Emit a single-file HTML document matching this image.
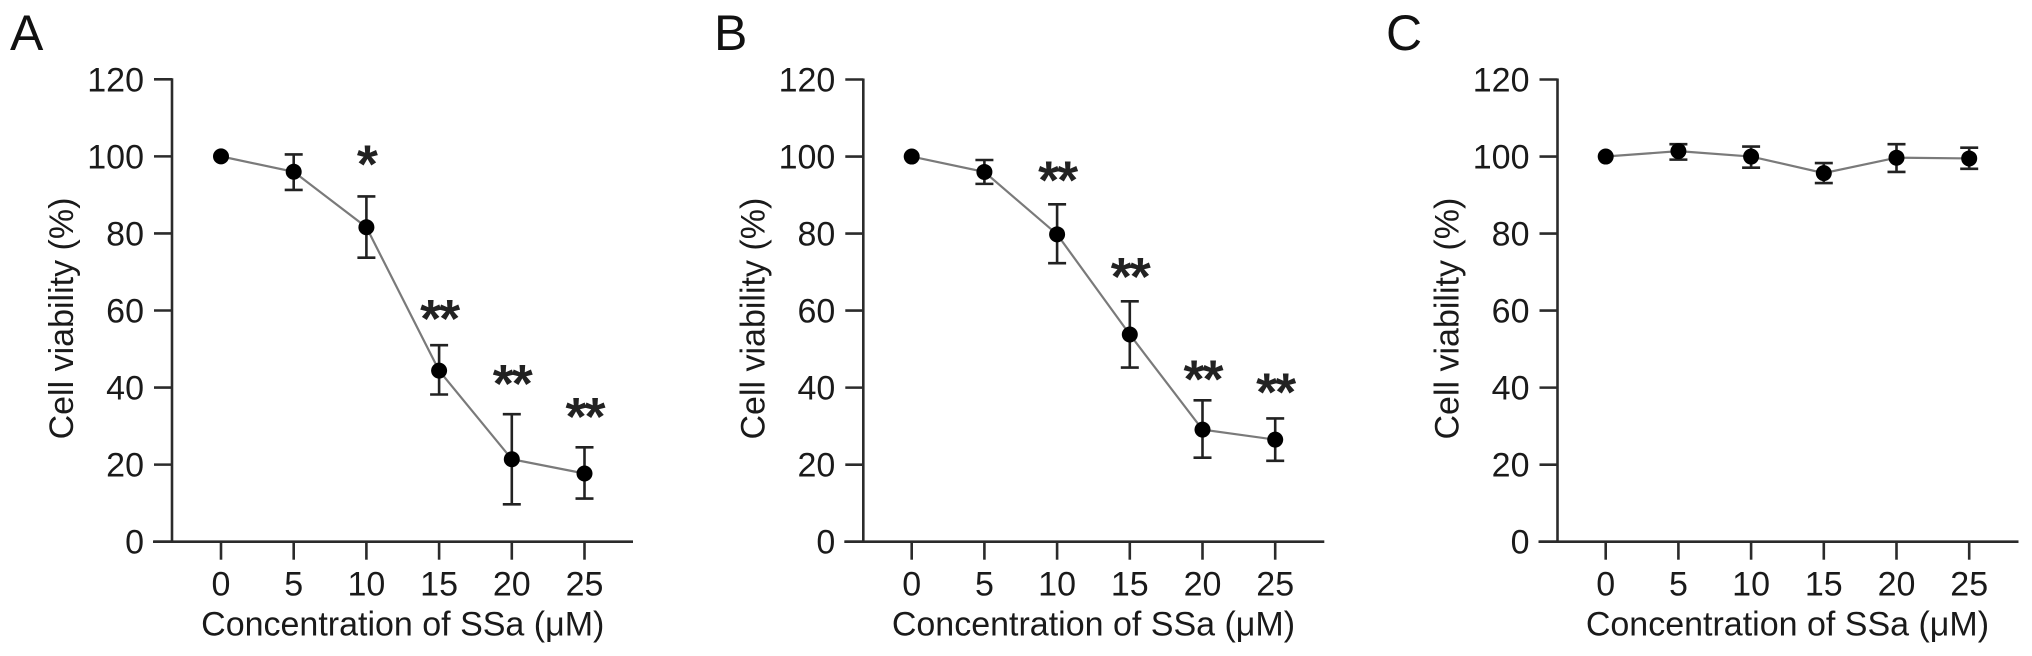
<!DOCTYPE html>
<html><head><meta charset="utf-8">
<style>
html,body{margin:0;padding:0;background:#fff;}
svg{display:block;font-family:"Liberation Sans",Arial,sans-serif;}
</style></head>
<body>
<svg id="fig" width="2032" height="656" viewBox="0 0 2032 656" xmlns="http://www.w3.org/2000/svg"></svg>
<script>
const concentrations = [0, 5, 10, 15, 20, 25];
const yTicks = [0, 20, 40, 60, 80, 100, 120];
const meanA = [100, 96, 81.6, 44.4, 21.4, 17.7];
const hiA = [null, 100.5, 89.6, 51, 33.1, 24.5];
const loA = [null, 91.3, 73.7, 38.2, 9.7, 11.2];
const starsA = ["", "", "*", "**", "**", "**"];
const starYA = [null, null, 101, 60.9, 44, 35.5];
const meanB = [100, 96, 79.8, 53.8, 29.1, 26.5];
const hiB = [null, 99.1, 87.6, 62.4, 36.7, 32];
const loB = [null, 92.9, 72.3, 45.2, 21.8, 21.0];
const starsB = ["", "", "**", "**", "**", "**"];
const starYB = [null, null, 96.9, 71.8, 45.2, 41.9];
const meanC = [100, 101.4, 100, 95.7, 99.7, 99.5];
const hiC = [null, 103.2, 102.6, 98.3, 103.2, 102.3];
const loC = [null, 99.2, 97.1, 93.1, 96, 96.8];
const starsC = ["", "", "", "", "", ""];
const starYC = [null, null, null, null, null, null];

const NS = "http://www.w3.org/2000/svg";
const svg = document.getElementById('fig');
function mk(tag, attrs, parent, text) {
  const e = document.createElementNS(NS, tag);
  for (const k in attrs) e.setAttribute(k, attrs[k]);
  if (text !== undefined) e.textContent = text;
  (parent || svg).appendChild(e);
  return e;
}

function panel(id, letter, letterX, axisX, x0, y0, y120, mean, hi, lo, stars, starY) {
  const g = mk('g', {});
  
  
  const step = 72.7;
  const xs = c => x0 + (c / 5) * step;
  const ys = v => y0 - (v / 120) * (y0 - y120);
  const ink = '#2b2b2b';

  const lt = mk('text', {x: letterX, y: 50, 'font-size': 50, fill: '#111'}, g, letter);
  
  

  const ya = mk('line', {x1: axisX, y1: ys(120) - 1, x2: axisX, y2: y0, stroke: ink, 'stroke-width': 2.6}, g);
  
  
  const xa = mk('line', {x1: axisX - 19, y1: y0, x2: axisX + 461, y2: y0, stroke: ink, 'stroke-width': 2.6}, g);
  
  

  yTicks.forEach(t => {
    const y = ys(t);
    const tk = mk('line', {x1: axisX - 18, y1: y, x2: axisX, y2: y, stroke: ink, 'stroke-width': 2.6}, g);
    
    
    const tl = mk('text', {x: axisX - 28, y: y + 12, 'font-size': 34, 'text-anchor': 'end', fill: '#1a1a1a'}, g, String(t));
    
    
  });
  concentrations.forEach(c => {
    const x = xs(c);
    const tk = mk('line', {x1: x, y1: y0, x2: x, y2: y0 + 18, stroke: ink, 'stroke-width': 2.6}, g);
    
    
    const tl = mk('text', {x: x, y: y0 + 54, 'font-size': 34, 'text-anchor': 'middle', fill: '#1a1a1a'}, g, String(c));
    
    
  });

  const xt = mk('text', {x: xs(12.5), y: y0 + 94, 'font-size': 34, 'text-anchor': 'middle', fill: '#1a1a1a'}, g, 'Concentration of SSa (\u03BCM)');
  
  
  const cy = (y0 + ys(120)) / 2 + 8;
  const yt = mk('text', {x: axisX - 110, y: cy, 'font-size': 34, 'text-anchor': 'middle', fill: '#1a1a1a',
    transform: 'rotate(-90 ' + (axisX - 110) + ' ' + cy + ')', 'dominant-baseline': 'central'}, g, 'Cell viability (%)');
  
  

  const pts = concentrations.map((c, i) => xs(c) + ',' + ys(mean[i])).join(' ');
  const ln = mk('polyline', {points: pts, fill: 'none', stroke: '#7a7a7a', 'stroke-width': 2.2}, g);
  
  

  concentrations.forEach((c, i) => {
    const x = xs(c);
    if (hi[i] !== null) {
      const eb = mk('path', {d: 'M' + (x - 9) + ' ' + ys(hi[i]) + 'H' + (x + 9) + 'M' + x + ' ' + ys(hi[i]) + 'V' + ys(lo[i]) + 'M' + (x - 9) + ' ' + ys(lo[i]) + 'H' + (x + 9),
        stroke: '#222', 'stroke-width': 2.6, fill: 'none'}, g);
      
      
    }
    const dot = mk('circle', {cx: x, cy: ys(mean[i]), r: 8, fill: '#000'}, g);
    
    
    if (stars[i]) {
      const st = mk('text', {x: x, y: ys(starY[i]) + 30, 'font-size': 54, 'font-weight': 'bold', 'text-anchor': 'middle', fill: '#222', 'letter-spacing': '-2'}, g, stars[i]);
      
      
    }
  });
}

panel('a', 'A', 10, 172, 221, 541.7, 79.3, meanA, hiA, loA, starsA, starYA);
panel('b', 'B', 714, 863.3, 911.7, 541.7, 79.5, meanB, hiB, loB, starsB, starYB);
panel('c', 'C', 1386, 1557.5, 1605.7, 541.7, 79.5, meanC, hiC, loC, starsC, starYC);
</script>
</body></html>
